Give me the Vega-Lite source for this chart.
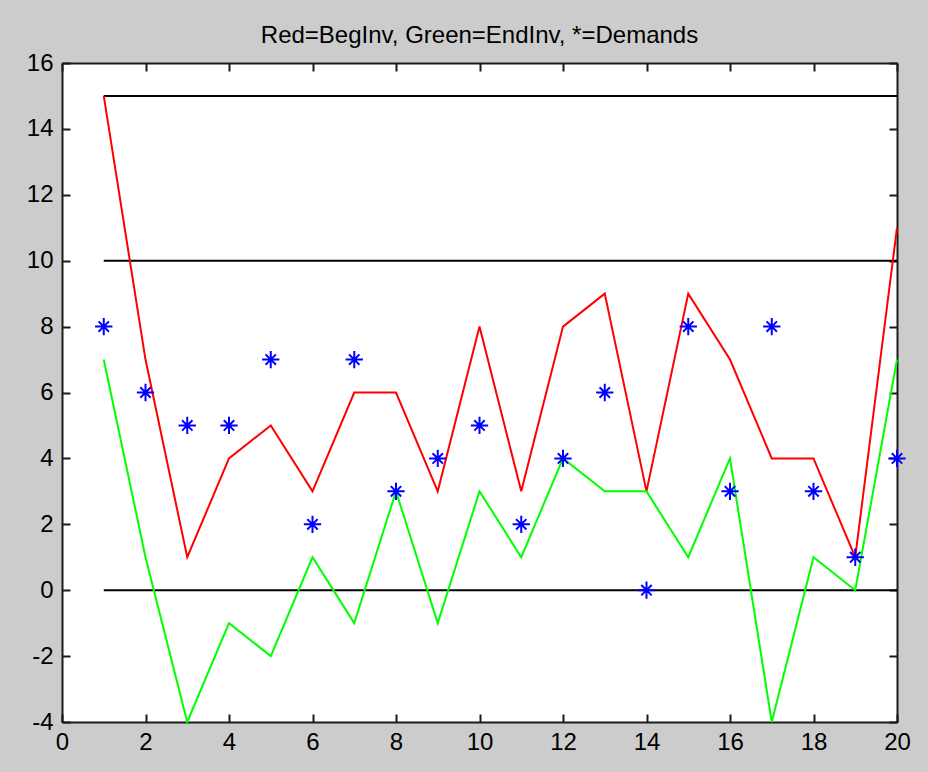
{
  "$schema": "https://vega.github.io/schema/vega-lite/v6.json",
  "width": 835,
  "height": 659,
  "autosize": "none",
  "padding": {"left": 62, "top": 63, "right": 31, "bottom": 50},
  "background": "#cccccc",
  "config": {
    "view": {"fill": "white", "stroke": null},
    "font": "Liberation Sans",
    "axis": {
      "grid": false,
      "title": null,
      "domainColor": "#1a1a1a",
      "domainWidth": 2,
      "tickColor": "#1a1a1a",
      "tickWidth": 2,
      "tickSize": -8,
      "labelFont": "Liberation Sans",
      "labelFontSize": 24,
      "labelColor": "black",
      "labelFlush": false,
      "labelOverlap": false,
      "labelExpr": "datum.value < 0 ? '-' + abs(datum.value) : '' + datum.value"
    }
  },
  "title": {
    "text": "Red=BegInv, Green=EndInv, *=Demands",
    "font": "Liberation Sans",
    "fontSize": 24,
    "fontWeight": "normal",
    "color": "black",
    "anchor": "middle",
    "baseline": "alphabetic",
    "offset": -16
  },
  "datasets": {
    "inventory": [
      {"period": 1, "BegInv": 15, "EndInv": 7, "Demand": 8},
      {"period": 2, "BegInv": 7, "EndInv": 1, "Demand": 6},
      {"period": 3, "BegInv": 1, "EndInv": -4, "Demand": 5},
      {"period": 4, "BegInv": 4, "EndInv": -1, "Demand": 5},
      {"period": 5, "BegInv": 5, "EndInv": -2, "Demand": 7},
      {"period": 6, "BegInv": 3, "EndInv": 1, "Demand": 2},
      {"period": 7, "BegInv": 6, "EndInv": -1, "Demand": 7},
      {"period": 8, "BegInv": 6, "EndInv": 3, "Demand": 3},
      {"period": 9, "BegInv": 3, "EndInv": -1, "Demand": 4},
      {"period": 10, "BegInv": 8, "EndInv": 3, "Demand": 5},
      {"period": 11, "BegInv": 3, "EndInv": 1, "Demand": 2},
      {"period": 12, "BegInv": 8, "EndInv": 4, "Demand": 4},
      {"period": 13, "BegInv": 9, "EndInv": 3, "Demand": 6},
      {"period": 14, "BegInv": 3, "EndInv": 3, "Demand": 0},
      {"period": 15, "BegInv": 9, "EndInv": 1, "Demand": 8},
      {"period": 16, "BegInv": 7, "EndInv": 4, "Demand": 3},
      {"period": 17, "BegInv": 4, "EndInv": -4, "Demand": 8},
      {"period": 18, "BegInv": 4, "EndInv": 1, "Demand": 3},
      {"period": 19, "BegInv": 1, "EndInv": 0, "Demand": 1},
      {"period": 20, "BegInv": 11, "EndInv": 7, "Demand": 4}
    ],
    "levels": [
      {"level": 15, "start": 1, "end": 20},
      {"level": 10, "start": 1, "end": 20},
      {"level": 0, "start": 1, "end": 20}
    ]
  },
  "layer": [
    {
      "data": {"name": "levels"},
      "mark": {"type": "rule", "color": "black", "strokeWidth": 2},
      "encoding": {
        "x": {
          "field": "start", "type": "quantitative",
          "scale": {"domain": [0, 20], "nice": false, "zero": false},
          "axis": {"orient": "bottom", "values": [0, 2, 4, 6, 8, 10, 12, 14, 16, 18, 20], "labelPadding": 16}
        },
        "x2": {"field": "end"},
        "y": {
          "field": "level", "type": "quantitative",
          "scale": {"domain": [-4, 16], "nice": false, "zero": false},
          "axis": {"orient": "left", "values": [-4, -2, 0, 2, 4, 6, 8, 10, 12, 14, 16], "labelPadding": 17}
        }
      }
    },
    {
      "data": {"name": "inventory"},
      "mark": {"type": "line", "color": "#ff0000", "strokeWidth": 2},
      "encoding": {
        "x": {
          "field": "period", "type": "quantitative",
          "scale": {"domain": [0, 20], "nice": false, "zero": false},
          "axis": {"orient": "top", "values": [0, 2, 4, 6, 8, 10, 12, 14, 16, 18, 20], "labels": false}
        },
        "y": {
          "field": "BegInv", "type": "quantitative",
          "scale": {"domain": [-4, 16], "nice": false, "zero": false},
          "axis": {"orient": "right", "values": [-4, -2, 0, 2, 4, 6, 8, 10, 12, 14, 16], "labels": false}
        }
      }
    },
    {
      "data": {"name": "inventory"},
      "mark": {"type": "line", "color": "#00ff00", "strokeWidth": 2},
      "encoding": {
        "x": {"field": "period", "type": "quantitative", "scale": {"domain": [0, 20], "nice": false, "zero": false}, "axis": null},
        "y": {"field": "EndInv", "type": "quantitative", "scale": {"domain": [-4, 16], "nice": false, "zero": false}, "axis": null}
      }
    },
    {
      "data": {"name": "inventory"},
      "mark": {
        "type": "point",
        "shape": "M-1,0L1,0M0,-1L0,1M-0.6,-0.6L0.6,0.6M-0.6,0.6L0.6,-0.6",
        "filled": false,
        "color": "#0000ff",
        "strokeWidth": 2,
        "size": 300,
        "opacity": 1
      },
      "encoding": {
        "x": {"field": "period", "type": "quantitative", "scale": {"domain": [0, 20], "nice": false, "zero": false}, "axis": null},
        "y": {"field": "Demand", "type": "quantitative", "scale": {"domain": [-4, 16], "nice": false, "zero": false}, "axis": null}
      }
    }
  ],
  "resolve": {"axis": {"x": "independent", "y": "independent"}}
}
